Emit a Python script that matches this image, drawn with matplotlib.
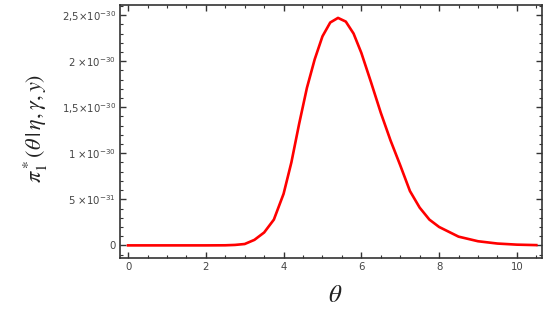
import numpy as np
import matplotlib
matplotlib.use("Agg")
import matplotlib.pyplot as plt
from matplotlib.ticker import FixedLocator, MultipleLocator

# curve (density in units of 1e-30)
theta = [0.0, 1.0, 2.0, 2.5, 2.75, 3.0, 3.25, 3.5, 3.75, 4.0, 4.2, 4.4, 4.6,
         4.8, 5.0, 5.2, 5.4, 5.6, 5.8, 6.0, 6.25, 6.5, 6.75, 7.0, 7.25, 7.5,
         7.75, 8.0, 8.5, 9.0, 9.5, 10.0, 10.5]
density = [0.0, 0.0, 0.0, 0.001, 0.005, 0.015, 0.06, 0.14, 0.28, 0.56, 0.90,
           1.32, 1.71, 2.02, 2.27, 2.42, 2.47, 2.43, 2.30, 2.09, 1.77, 1.44,
           1.14, 0.87, 0.59, 0.41, 0.28, 0.20, 0.095, 0.045, 0.02, 0.008, 0.003]

ytick_vals = [0.0, 0.5, 1.0, 1.5, 2.0, 2.5]
ytick_labels = ["0", r"5 $\times 10^{-31}$", r"1 $\times 10^{-30}$",
                r"1,5$\times 10^{-30}$", r"2 $\times 10^{-30}$", r"2,5$\times 10^{-30}$"]
xtick_vals = [0, 2, 4, 6, 8, 10]

fig = plt.figure(figsize=(5.5, 3.13), dpi=100)
ax = fig.add_axes([0.218, 0.176, 0.767, 0.808])

ax.plot(theta, np.array(density), color="#ff0000", lw=1.9,
        solid_joinstyle="round")

ax.set_xlim(-0.21, 10.64)
ax.set_ylim(-0.136, 2.61)

ax.xaxis.set_major_locator(FixedLocator(xtick_vals))
ax.xaxis.set_minor_locator(MultipleLocator(0.5))
ax.yaxis.set_major_locator(FixedLocator(ytick_vals))
ax.yaxis.set_minor_locator(MultipleLocator(0.1))
ax.set_yticklabels(ytick_labels)

ax.tick_params(which="both", direction="in", top=True, right=True,
               colors="#333333", labelcolor="#444444", labelsize=7.3, pad=3)
ax.tick_params(which="major", length=4, width=1.0)
ax.tick_params(which="minor", length=2.5, width=0.8)
for s in ax.spines.values():
    s.set_color("#333333")
    s.set_linewidth(1.2)

fig.text(0.61, 0.02, r"$\theta$", fontsize=18, ha="center", va="bottom",
         color="#222222", math_fontfamily="stix")
fig.text(0.065, 0.59, r"$\pi_1^*(\theta\,\vert\,\eta,\gamma,y)$", fontsize=16,
         ha="center", va="center", rotation=90, color="#222222",
         math_fontfamily="stix")

fig.savefig("out.png", dpi=100)
